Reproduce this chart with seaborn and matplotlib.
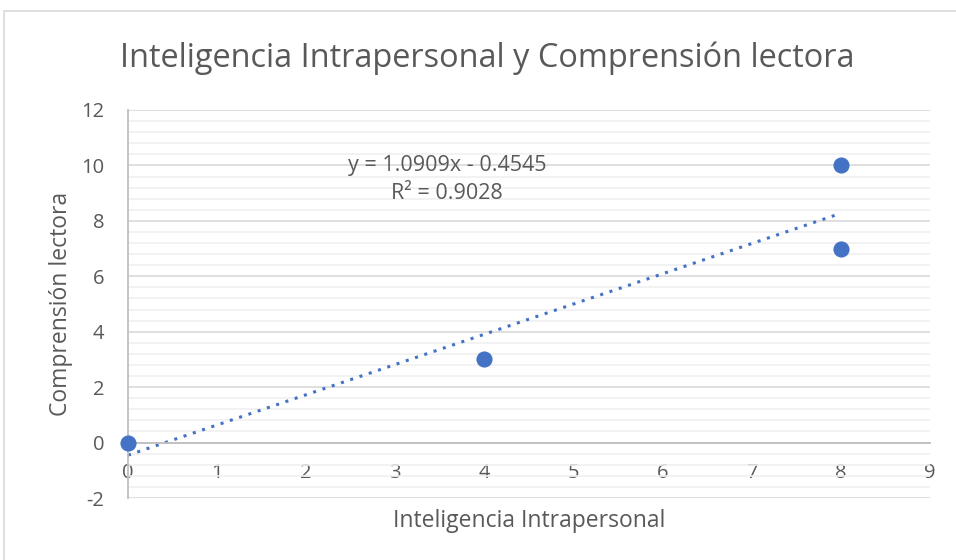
import numpy as np
import pandas as pd
import matplotlib
matplotlib.use('Agg')
import matplotlib.pyplot as plt
import seaborn as sns
from matplotlib.ticker import MultipleLocator

intrapersonal = [0, 4, 8, 8]
comprension = [0, 3, 10, 7]

df = pd.DataFrame({'Inteligencia Intrapersonal': intrapersonal,
                   'Comprensión lectora': comprension})

sns.set_style('white')
plt.rcParams['font.family'] = ['Open Sans', 'DejaVu Sans']
plt.rcParams['axes.unicode_minus'] = False

blue = '#4472C4'
grey = '#595959'

fig = plt.figure(figsize=(9.56, 5.6), dpi=100)
ax = fig.add_axes([0.1339, 0.1107, 0.8389, 0.6929])

# border round the chart
fig.patches.append(plt.Rectangle((0.0045, -0.01), 1.0, 0.99, transform=fig.transFigure,
                                 fill=False, edgecolor='#d9d9d9', linewidth=1.2))

sns.regplot(ax=ax, data=df, x='Inteligencia Intrapersonal', y='Comprensión lectora',
            scatter=False, ci=None, truncate=True,
            line_kws=dict(color=blue, linestyle=(0, (1, 2.2)), linewidth=2.2))
sns.scatterplot(ax=ax, data=df, x='Inteligencia Intrapersonal', y='Comprensión lectora',
                color=blue, s=135, edgecolor=blue, linewidth=0, zorder=5, clip_on=False)

slope, intercept = np.polyfit(intrapersonal, comprension, 1)
r2 = np.corrcoef(intrapersonal, comprension)[0, 1] ** 2
ax.text(3.58, 10.0, f'y = {slope:.4f}x - {abs(intercept):.4f}', ha='center', va='center',
        fontsize=15.5, color=grey)
ax.text(3.58, 9.0, f'R² = {r2:.4f}', ha='center', va='center', fontsize=15.5, color=grey)

ax.set_xlim(0, 9)
ax.set_ylim(-2, 12)
ax.xaxis.set_major_locator(MultipleLocator(1))
ax.yaxis.set_major_locator(MultipleLocator(2))
ax.yaxis.set_minor_locator(MultipleLocator(0.4))
ax.grid(True, which='major', axis='y', color='#d9d9d9', linewidth=1.2)
ax.grid(True, which='minor', axis='y', color='#f0f0f0', linewidth=1.2)
ax.set_axisbelow(True)

for s in ['top', 'right']:
    ax.spines[s].set_visible(False)
ax.spines['bottom'].set_position(('data', 0))
ax.spines['left'].set_position(('data', 0))
ax.spines['bottom'].set_color('#bfbfbf')
ax.spines['left'].set_color('#bfbfbf')
ax.spines['bottom'].set_linewidth(1.3)
ax.spines['left'].set_linewidth(1.3)

ax.tick_params(axis='x', which='major', direction='out', length=5, width=1.3,
               color='#bfbfbf', labelcolor=grey, labelsize=14.5, pad=10)
ax.tick_params(axis='y', which='major', direction='out', length=5, width=1.3,
               color='#bfbfbf', labelcolor=grey, labelsize=14.5, pad=12)
ax.tick_params(axis='y', which='minor', length=0)

ax.set_xlabel('Inteligencia Intrapersonal', fontsize=16.5, color=grey)
ax.set_ylabel('Comprensión lectora', fontsize=16.5, color=grey)
# x label sits below the plot area, not the moved spine
ax.xaxis.set_label_coords(0.5, -0.028)
ax.yaxis.set_label_coords(-0.068, 0.5)

fig.text(0.51, 0.896, 'Inteligencia Intrapersonal y Comprensión lectora',
         ha='center', va='center', fontsize=23.4, color=grey)

fig.savefig('out.png', dpi=100, facecolor='white')
